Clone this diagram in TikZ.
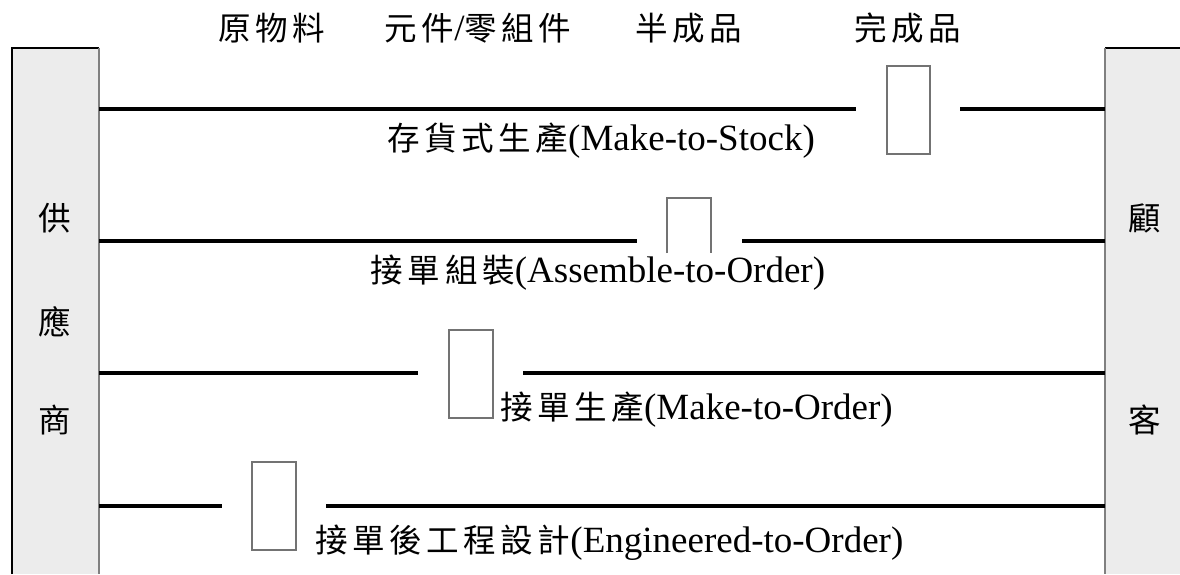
\documentclass[tikz,border=0pt]{standalone}
\usepackage{fontspec}
\setmainfont{Liberation Serif}
\newfontfamily\cjk[Scale=0.88,LetterSpace=14]{Noto Sans CJK TC}
\newcommand{\zh}[1]{{\cjk #1}}
\usetikzlibrary{positioning}

\begin{document}
\begin{tikzpicture}[x=1pt,y=-1pt,font=\fontsize{37}{40}\selectfont,
  flow/.style={line width=3.5pt},
  stock/.style={draw=black!55,line width=1.5pt},
  party/.style={fill=gray!15},
  lbl/.style={inner sep=0pt,anchor=base}]
\useasboundingbox (0,0) rectangle (1180,574);
% supplier and customer columns
\path[party] (12,48) rectangle (99,574);
\draw[line width=1.5pt] (12,574) -- (12,48) -- (99,48);
\draw[black!50,line width=1.5pt] (99,48) -- (99,574);
\path[party] (1105,48) rectangle (1180,574);
\draw[line width=1.5pt] (1105,48) -- (1180,48);
\draw[black!50,line width=1.5pt] (1105,48) -- (1105,574);
\node[lbl] (sup1) at (55,230) {\zh{供}};
\node[lbl] (sup2) at (55,334) {\zh{應}};
\node[lbl] (sup3) at (55,432) {\zh{商}};
\node[lbl] (cus1) at (1145,230) {\zh{顧}};
\node[lbl] (cus2) at (1145,432) {\zh{客}};
% stage headings
\node[lbl] (raw) at (272,40) {\zh{原物料}};
\node[lbl] (part) at (478,40) {\zh{元件}/\zh{零組件}};
\node[lbl] (semi) at (689,40) {\zh{半成品}};
\node[lbl] (fin) at (908,40) {\zh{完成品}};
% Make-to-Stock
\draw[flow] (99,109) -- (856,109);
\draw[flow] (960,109) -- (1105,109);
\draw[stock] (887,66) rectangle (930,154);
\node[lbl] (mts) at (601,150) {\zh{存貨式生產}(Make-to-Stock)};
% Assemble-to-Order
\draw[flow] (99,241) -- (637,241);
\draw[flow] (742,241) -- (1105,241);
\draw[stock] (667,253) -- (667,198) -- (711,198) -- (711,253);
\node[lbl] (ato) at (598,282) {\zh{接單組裝}(Assemble-to-Order)};
% Make-to-Order
\draw[flow] (99,373) -- (418,373);
\draw[flow] (523,373) -- (1105,373);
\draw[stock] (449,330) rectangle (493,418);
\node[lbl,anchor=base west] (mto) at (500,419) {\zh{接單生產}(Make-to-Order)};
% Engineered-to-Order
\draw[flow] (99,506) -- (222,506);
\draw[flow] (326,506) -- (1105,506);
\draw[stock] (252,462) rectangle (296,550);
\node[lbl,anchor=base west] (eto) at (315,552) {\zh{接單後工程設計}(Engineered-to-Order)};
\end{tikzpicture}
\end{document}
